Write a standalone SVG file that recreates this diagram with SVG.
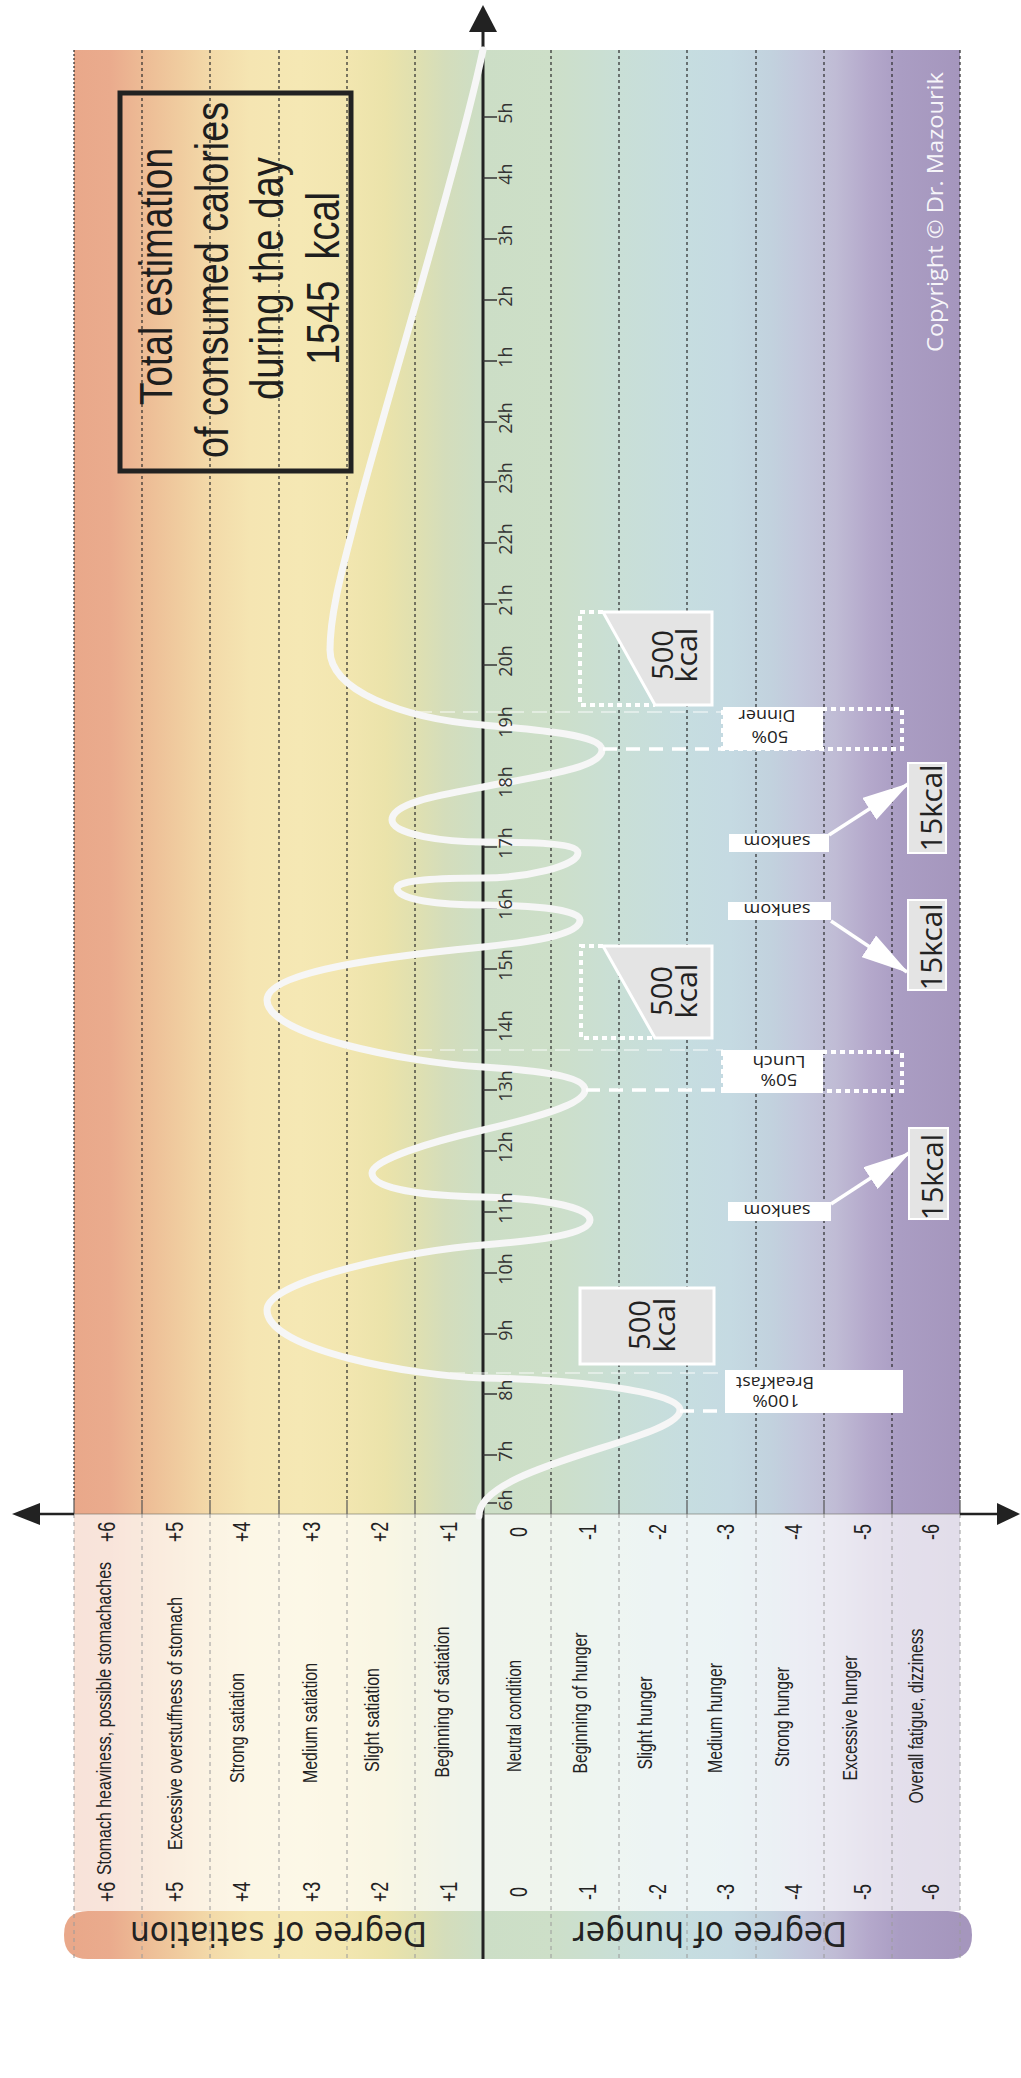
<svg xmlns="http://www.w3.org/2000/svg" width="1021" height="2078" viewBox="0 0 1021 2078">
<defs>
<linearGradient id="bg" gradientUnits="userSpaceOnUse" x1="74" y1="0" x2="960" y2="0">
<stop offset="0" stop-color="#e9a88a"/>
<stop offset="0.041" stop-color="#eaab8d"/>
<stop offset="0.077" stop-color="#edbb95"/>
<stop offset="0.12" stop-color="#f0cc9f"/>
<stop offset="0.155" stop-color="#f3daa9"/>
<stop offset="0.199" stop-color="#f5e5b2"/>
<stop offset="0.255" stop-color="#f5e8b4"/>
<stop offset="0.308" stop-color="#f2e6b0"/>
<stop offset="0.351" stop-color="#ebe3aa"/>
<stop offset="0.385" stop-color="#e0e0b0"/>
<stop offset="0.419" stop-color="#d4ddbb"/>
<stop offset="0.462" stop-color="#ccdec6"/>
<stop offset="0.538" stop-color="#cddfc8"/>
<stop offset="0.615" stop-color="#c9dfd6"/>
<stop offset="0.692" stop-color="#c6dde0"/>
<stop offset="0.74" stop-color="#c5dae2"/>
<stop offset="0.786" stop-color="#c2d2de"/>
<stop offset="0.819" stop-color="#c3c8dc"/>
<stop offset="0.859" stop-color="#c0bcd5"/>
<stop offset="0.898" stop-color="#b4a8cb"/>
<stop offset="0.932" stop-color="#aa9dc3"/>
<stop offset="1" stop-color="#a596bd"/>
</linearGradient>
<marker id="ah" viewBox="0 0 48 26" refX="46" refY="13" markerWidth="48" markerHeight="26" markerUnits="userSpaceOnUse" orient="auto">
<path d="M0,0 L48,13 L0,26 z" fill="#ffffff"/>
</marker>
<style>
.grid{stroke:#2a2a2a;stroke-width:1.2;stroke-dasharray:3 3;fill:none}
.gsolid{stroke:#555;stroke-width:1.2}
.gridlow{stroke:#9a9a9a;stroke-width:1;stroke-dasharray:4 4}
.tick{stroke:#333;stroke-width:1.5}
.hr{font-family:"Open Sans","DejaVu Sans",sans-serif;font-size:18px;fill:#333;text-anchor:middle}
.lvl{font-family:"Liberation Sans",Arial,sans-serif;font-size:21px;fill:#222;text-anchor:middle}
.num{font-family:"Liberation Sans",Arial,sans-serif;font-size:24px;fill:#222;text-anchor:middle}
.big{font-family:"Liberation Sans",Arial,sans-serif;font-size:47px;fill:#1e1e1e;text-anchor:middle}
.deg{font-family:"DejaVu Sans",sans-serif;font-size:34px;fill:#222;text-anchor:middle}
.kc{font-family:"Open Sans",sans-serif;font-size:30px;fill:#222;text-anchor:middle}
.lab{font-family:"Open Sans",sans-serif;font-size:17px;fill:#222;text-anchor:middle}
.box{fill:#e4e4e4;stroke:#ffffff;stroke-width:3}
.sbox{fill:#e4e4e4;stroke:#ffffff;stroke-width:2}
.dots{fill:none;stroke:#ffffff;stroke-width:4;stroke-dasharray:5 4}
.faint{stroke:#ffffff;stroke-opacity:0.6;stroke-width:1.5;stroke-dasharray:15 8}
.meal{stroke:#ffffff;stroke-width:3.5;stroke-dasharray:14 9}
.arrow{stroke:#ffffff;stroke-width:3.5;marker-end:url(#ah)}
.axis{stroke:#222;stroke-width:3;fill:none}
</style>
</defs>

<g id="background">
<rect x="74" y="50" width="886" height="1464" fill="url(#bg)"/>
<rect x="74" y="1514" width="886" height="397" fill="url(#bg)"/>
<rect x="74" y="1514" width="886" height="397" fill="#ffffff" fill-opacity="0.68"/>
<path id="pill-satiation" d="M483,1911 H88 Q64,1911 64,1935 Q64,1959 88,1959 H483 Z" fill="url(#bg)"/>
<path id="pill-hunger" d="M483,1911 H948 Q972,1911 972,1935 Q972,1959 948,1959 H483 Z" fill="url(#bg)"/>
</g>

<g id="grid">
<g class="grid">
<line x1="74" y1="50" x2="74" y2="1500" style="stroke-dasharray:2 2"/>
<line x1="142" y1="50" x2="142" y2="1500"/>
<line x1="210" y1="50" x2="210" y2="1500"/>
<line x1="279" y1="50" x2="279" y2="1500"/>
<line x1="347" y1="50" x2="347" y2="1500"/>
<line x1="415" y1="50" x2="415" y2="1500"/>
<line x1="551" y1="50" x2="551" y2="1500"/>
<line x1="619" y1="50" x2="619" y2="1500"/>
<line x1="687" y1="50" x2="687" y2="1500"/>
<line x1="756" y1="50" x2="756" y2="1500"/>
<line x1="824" y1="50" x2="824" y2="1500"/>
<line x1="892" y1="50" x2="892" y2="1500"/>
<line x1="960" y1="50" x2="960" y2="1500"/>
</g>
<g class="gsolid">
<line x1="74" y1="1500" x2="74" y2="1514"/>
<line x1="142" y1="1500" x2="142" y2="1514"/>
<line x1="210" y1="1500" x2="210" y2="1514"/>
<line x1="279" y1="1500" x2="279" y2="1514"/>
<line x1="347" y1="1500" x2="347" y2="1514"/>
<line x1="415" y1="1500" x2="415" y2="1514"/>
<line x1="551" y1="1500" x2="551" y2="1514"/>
<line x1="619" y1="1500" x2="619" y2="1514"/>
<line x1="687" y1="1500" x2="687" y2="1514"/>
<line x1="756" y1="1500" x2="756" y2="1514"/>
<line x1="824" y1="1500" x2="824" y2="1514"/>
<line x1="892" y1="1500" x2="892" y2="1514"/>
<line x1="960" y1="1500" x2="960" y2="1514"/>
</g>
<g class="gridlow">
<line x1="74" y1="1514" x2="74" y2="1959"/>
<line x1="142" y1="1514" x2="142" y2="1959"/>
<line x1="210" y1="1514" x2="210" y2="1959"/>
<line x1="279" y1="1514" x2="279" y2="1959"/>
<line x1="347" y1="1514" x2="347" y2="1959"/>
<line x1="415" y1="1514" x2="415" y2="1959"/>
<line x1="551" y1="1514" x2="551" y2="1959"/>
<line x1="619" y1="1514" x2="619" y2="1959"/>
<line x1="687" y1="1514" x2="687" y2="1959"/>
<line x1="756" y1="1514" x2="756" y2="1959"/>
<line x1="824" y1="1514" x2="824" y2="1959"/>
<line x1="892" y1="1514" x2="892" y2="1959"/>
<line x1="960" y1="1514" x2="960" y2="1959"/>
</g>
</g>

<g id="axes">
<line class="axis" x1="483" y1="30" x2="483" y2="1959"/>
<polygon points="483,5 469,32 497,32" fill="#222"/>
<line x1="38" y1="1514" x2="74" y2="1514" stroke="#222" stroke-width="2.5"/>
<line x1="74" y1="1514" x2="960" y2="1514" stroke="#6f6f66" stroke-width="1.2" stroke-opacity="0.6"/>
<line x1="960" y1="1514" x2="999" y2="1514" stroke="#222" stroke-width="2.5"/>
<polygon points="12,1514 40,1503 40,1525" fill="#222"/>
<polygon points="1020,1514 997,1503 997,1525" fill="#222"/>
</g>

<g id="hour-ticks" class="tick">
<line x1="483" y1="117" x2="497" y2="117"/>
<line x1="483" y1="178" x2="497" y2="178"/>
<line x1="483" y1="239" x2="497" y2="239"/>
<line x1="483" y1="300" x2="497" y2="300"/>
<line x1="483" y1="361" x2="497" y2="361"/>
<line x1="483" y1="422" x2="497" y2="422"/>
<line x1="483" y1="482" x2="497" y2="482"/>
<line x1="483" y1="543" x2="497" y2="543"/>
<line x1="483" y1="604" x2="497" y2="604"/>
<line x1="483" y1="665" x2="497" y2="665"/>
<line x1="483" y1="726" x2="497" y2="726"/>
<line x1="483" y1="786" x2="497" y2="786"/>
<line x1="483" y1="847" x2="497" y2="847"/>
<line x1="483" y1="908" x2="497" y2="908"/>
<line x1="483" y1="969" x2="497" y2="969"/>
<line x1="483" y1="1030" x2="497" y2="1030"/>
<line x1="483" y1="1090" x2="497" y2="1090"/>
<line x1="483" y1="1151" x2="497" y2="1151"/>
<line x1="483" y1="1212" x2="497" y2="1212"/>
<line x1="483" y1="1273" x2="497" y2="1273"/>
<line x1="483" y1="1334" x2="497" y2="1334"/>
<line x1="483" y1="1394" x2="497" y2="1394"/>
<line x1="483" y1="1455" x2="497" y2="1455"/>
<line x1="483" y1="1503" x2="497" y2="1503"/>
</g>

<g id="total-box">
<rect x="120" y="93" width="231" height="378" fill="none" stroke="#222" stroke-width="5"/>
<text class="big" transform="translate(172,276.5) rotate(-90)" textLength="257" lengthAdjust="spacingAndGlyphs">Total estimation</text>
<text class="big" transform="translate(228,280) rotate(-90)" textLength="356" lengthAdjust="spacingAndGlyphs">of consumed calories</text>
<text class="big" transform="translate(283,278.5) rotate(-90)" textLength="243" lengthAdjust="spacingAndGlyphs">during the day</text>
<text class="big" transform="translate(339,278.5) rotate(-90)" textLength="173" lengthAdjust="spacingAndGlyphs" xml:space="preserve">1545  kcal</text>
</g>

<g id="connectors">
<line class="faint" x1="417" y1="712" x2="723" y2="712"/>
<line class="faint" x1="417" y1="1050" x2="723" y2="1050"/>
<line class="faint" x1="450" y1="1373" x2="725" y2="1373"/>
<path id="hunger-curve" d="M479,1516 C478,1465 680,1440 680,1410 C680,1390 560,1379 483,1378 C413,1376 267,1350 267,1310 C267,1280 413,1250 483,1245 C533,1241 590,1235 590,1220 C590,1205 530,1198 483,1197 C430,1196 372,1190 372,1173 C372,1160 430,1142 483,1130 C530,1119 585,1105 585,1090 C585,1075 530,1070 483,1067 C403,1062 267,1035 267,1000 C267,970 400,955 483,947 C530,942 580,935 580,920 C580,908 520,905 483,905 C440,905 397,900 397,888 C397,880 440,878 483,878 C526,878 578,866 578,853 C578,842 520,842 483,842 C446,842 392,835 392,820 C392,803 440,795 483,787 C540,776 602,768 602,750 C602,735 540,730 483,725 C400,718 330,690 330,650 C330,610 345,560 355,520 C375,440 460,160 483,50" fill="none" stroke="#f6f6f6" stroke-width="7" stroke-linecap="round"/>
<line class="meal" x1="603" y1="749" x2="723" y2="749"/>
<line class="meal" x1="586" y1="1090" x2="723" y2="1090"/>
<line class="meal" x1="680" y1="1411" x2="725" y2="1411"/>
<line class="arrow" x1="831" y1="1204" x2="909" y2="1153"/>
<line class="arrow" x1="831" y1="921" x2="907" y2="972"/>
<line class="arrow" x1="829" y1="835" x2="908" y2="784"/>
</g>

<g id="hour-labels">
<text class="hr" transform="translate(512,113) rotate(-90)">5h</text>
<text class="hr" transform="translate(512,174) rotate(-90)">4h</text>
<text class="hr" transform="translate(512,235) rotate(-90)">3h</text>
<text class="hr" transform="translate(512,296) rotate(-90)">2h</text>
<text class="hr" transform="translate(512,357) rotate(-90)">1h</text>
<text class="hr" transform="translate(512,418) rotate(-90)">24h</text>
<text class="hr" transform="translate(512,478) rotate(-90)">23h</text>
<text class="hr" transform="translate(512,539) rotate(-90)">22h</text>
<text class="hr" transform="translate(512,600) rotate(-90)">21h</text>
<text class="hr" transform="translate(512,661) rotate(-90)">20h</text>
<text class="hr" transform="translate(512,722) rotate(-90)">19h</text>
<text class="hr" transform="translate(512,782) rotate(-90)">18h</text>
<text class="hr" transform="translate(512,843) rotate(-90)">17h</text>
<text class="hr" transform="translate(512,904) rotate(-90)">16h</text>
<text class="hr" transform="translate(512,965) rotate(-90)">15h</text>
<text class="hr" transform="translate(512,1026) rotate(-90)">14h</text>
<text class="hr" transform="translate(512,1086) rotate(-90)">13h</text>
<text class="hr" transform="translate(512,1147) rotate(-90)">12h</text>
<text class="hr" transform="translate(512,1208) rotate(-90)">11h</text>
<text class="hr" transform="translate(512,1269) rotate(-90)">10h</text>
<text class="hr" transform="translate(512,1330) rotate(-90)">9h</text>
<text class="hr" transform="translate(512,1390) rotate(-90)">8h</text>
<text class="hr" transform="translate(512,1451) rotate(-90)">7h</text>
<text class="hr" transform="translate(512,1500) rotate(-90)">6h</text>
</g>

<g id="breakfast-kcal">
<rect class="box" x="580" y="1288" width="134" height="76"/>
<text class="kc" transform="translate(650,1325) rotate(-90)" textLength="50" lengthAdjust="spacingAndGlyphs">500</text>
<text class="kc" transform="translate(675,1325) rotate(-90)" textLength="55" lengthAdjust="spacingAndGlyphs">kcal</text>
</g>
<g id="lunch-kcal">
<path class="dots" d="M603,946 H581 V1038 H655"/>
<polygon class="box" points="603,946 712,946 712,1038 655,1038"/>
<text class="kc" transform="translate(672,991) rotate(-90)" textLength="50" lengthAdjust="spacingAndGlyphs">500</text>
<text class="kc" transform="translate(697,991) rotate(-90)" textLength="55" lengthAdjust="spacingAndGlyphs">kcal</text>
</g>
<g id="dinner-kcal">
<path class="dots" d="M603,612 H580 V705 H655"/>
<polygon class="box" points="603,612 712,612 712,705 655,705"/>
<text class="kc" transform="translate(673,655) rotate(-90)" textLength="50" lengthAdjust="spacingAndGlyphs">500</text>
<text class="kc" transform="translate(697,655) rotate(-90)" textLength="55" lengthAdjust="spacingAndGlyphs">kcal</text>
</g>

<g id="breakfast-label">
<rect x="725" y="1370" width="178" height="43" fill="#ffffff"/>
<text class="lab" transform="translate(775,1377) rotate(180)" textLength="78" lengthAdjust="spacingAndGlyphs">Breakfast</text>
<text class="lab" transform="translate(776,1395) rotate(180)" textLength="47" lengthAdjust="spacingAndGlyphs">100%</text>
</g>
<g id="lunch-label">
<rect class="dots" x="723" y="1052" width="179" height="39"/>
<rect x="723" y="1050" width="100" height="43" fill="#ffffff"/>
<text class="lab" transform="translate(779,1056) rotate(180)" textLength="53" lengthAdjust="spacingAndGlyphs">Lunch</text>
<text class="lab" transform="translate(779,1074) rotate(180)" textLength="37" lengthAdjust="spacingAndGlyphs">50%</text>
</g>
<g id="dinner-label">
<rect class="dots" x="723" y="709" width="179" height="40"/>
<rect x="723" y="707" width="100" height="43" fill="#ffffff"/>
<text class="lab" transform="translate(767,710) rotate(180)" textLength="57" lengthAdjust="spacingAndGlyphs">Dinner</text>
<text class="lab" transform="translate(770,731) rotate(180)" textLength="37" lengthAdjust="spacingAndGlyphs">50%</text>
</g>

<g id="snack-1">
<rect x="728" y="1202" width="103" height="19" fill="#ffffff"/>
<text class="lab" transform="translate(777,1205) rotate(180)" textLength="67" lengthAdjust="spacingAndGlyphs">sankom</text>
<rect class="sbox" x="909" y="1128" width="39" height="91"/>
<text class="kc" transform="translate(943,1177) rotate(-90)" textLength="86" lengthAdjust="spacingAndGlyphs">15kcal</text>
</g>
<g id="snack-2">
<rect x="728" y="902" width="103" height="18" fill="#ffffff"/>
<text class="lab" transform="translate(777,904) rotate(180)" textLength="67" lengthAdjust="spacingAndGlyphs">sankom</text>
<rect class="sbox" x="908" y="900" width="38" height="90"/>
<text class="kc" transform="translate(942,947) rotate(-90)" textLength="87" lengthAdjust="spacingAndGlyphs">15kcal</text>
</g>
<g id="snack-3">
<rect x="729" y="834" width="100" height="18" fill="#ffffff"/>
<text class="lab" transform="translate(777,836) rotate(180)" textLength="67" lengthAdjust="spacingAndGlyphs">sankom</text>
<rect class="sbox" x="908" y="763" width="38" height="90"/>
<text class="kc" transform="translate(942,808) rotate(-90)" textLength="87" lengthAdjust="spacingAndGlyphs">15kcal</text>
</g>

<g id="copyright">
<text transform="translate(943,212) rotate(-90)" font-family="'Open Sans',sans-serif" font-size="22" fill="#ffffff" fill-opacity="0.92" text-anchor="middle" textLength="280" lengthAdjust="spacingAndGlyphs">Copyright © Dr. Mazourik</text>
</g>

<g id="level-numbers">
<text class="num" transform="translate(115,1532) rotate(-90) scale(0.75,1)">+6</text>
<text class="num" transform="translate(183,1532) rotate(-90) scale(0.75,1)">+5</text>
<text class="num" transform="translate(250,1532) rotate(-90) scale(0.75,1)">+4</text>
<text class="num" transform="translate(320,1532) rotate(-90) scale(0.75,1)">+3</text>
<text class="num" transform="translate(388,1532) rotate(-90) scale(0.75,1)">+2</text>
<text class="num" transform="translate(457,1532) rotate(-90) scale(0.75,1)">+1</text>
<text class="num" transform="translate(527,1532) rotate(-90) scale(0.75,1)">0</text>
<text class="num" transform="translate(596,1532) rotate(-90) scale(0.75,1)">-1</text>
<text class="num" transform="translate(666,1532) rotate(-90) scale(0.75,1)">-2</text>
<text class="num" transform="translate(734,1532) rotate(-90) scale(0.75,1)">-3</text>
<text class="num" transform="translate(802,1532) rotate(-90) scale(0.75,1)">-4</text>
<text class="num" transform="translate(871,1532) rotate(-90) scale(0.75,1)">-5</text>
<text class="num" transform="translate(939,1532) rotate(-90) scale(0.75,1)">-6</text>
<text class="num" transform="translate(115,1892) rotate(-90) scale(0.75,1)">+6</text>
<text class="num" transform="translate(183,1892) rotate(-90) scale(0.75,1)">+5</text>
<text class="num" transform="translate(250,1892) rotate(-90) scale(0.75,1)">+4</text>
<text class="num" transform="translate(320,1892) rotate(-90) scale(0.75,1)">+3</text>
<text class="num" transform="translate(388,1892) rotate(-90) scale(0.75,1)">+2</text>
<text class="num" transform="translate(457,1892) rotate(-90) scale(0.75,1)">+1</text>
<text class="num" transform="translate(527,1892) rotate(-90) scale(0.75,1)">0</text>
<text class="num" transform="translate(596,1892) rotate(-90) scale(0.75,1)">-1</text>
<text class="num" transform="translate(666,1892) rotate(-90) scale(0.75,1)">-2</text>
<text class="num" transform="translate(734,1892) rotate(-90) scale(0.75,1)">-3</text>
<text class="num" transform="translate(802,1892) rotate(-90) scale(0.75,1)">-4</text>
<text class="num" transform="translate(871,1892) rotate(-90) scale(0.75,1)">-5</text>
<text class="num" transform="translate(939,1892) rotate(-90) scale(0.75,1)">-6</text>
</g>

<g id="level-descriptions">
<text class="lvl" transform="translate(110.5,1718.5) rotate(-90)" textLength="313" lengthAdjust="spacingAndGlyphs">Stomach heaviness, possible stomachaches</text>
<text class="lvl" transform="translate(182,1723.5) rotate(-90)" textLength="253" lengthAdjust="spacingAndGlyphs">Excessive overstuffness of stomach</text>
<text class="lvl" transform="translate(244,1728) rotate(-90)" textLength="110" lengthAdjust="spacingAndGlyphs">Strong satiation</text>
<text class="lvl" transform="translate(317,1723) rotate(-90)" textLength="120" lengthAdjust="spacingAndGlyphs">Medium satiation</text>
<text class="lvl" transform="translate(379,1720) rotate(-90)" textLength="104" lengthAdjust="spacingAndGlyphs">Slight satiation</text>
<text class="lvl" transform="translate(449,1702) rotate(-90)" textLength="151" lengthAdjust="spacingAndGlyphs">Beginning of satiation</text>
<text class="lvl" transform="translate(521,1716) rotate(-90)" textLength="112" lengthAdjust="spacingAndGlyphs">Neutral condition</text>
<text class="lvl" transform="translate(587,1703) rotate(-90)" textLength="141" lengthAdjust="spacingAndGlyphs">Beginning of hunger</text>
<text class="lvl" transform="translate(652,1723) rotate(-90)" textLength="93" lengthAdjust="spacingAndGlyphs">Slight hunger</text>
<text class="lvl" transform="translate(722,1718) rotate(-90)" textLength="110" lengthAdjust="spacingAndGlyphs">Medium hunger</text>
<text class="lvl" transform="translate(789,1717) rotate(-90)" textLength="100" lengthAdjust="spacingAndGlyphs">Strong hunger</text>
<text class="lvl" transform="translate(857,1718) rotate(-90)" textLength="125" lengthAdjust="spacingAndGlyphs">Excessive hunger</text>
<text class="lvl" transform="translate(923,1716) rotate(-90)" textLength="175" lengthAdjust="spacingAndGlyphs">Overall fatigue, dizziness</text>
</g>

<g id="scale-titles">
<text class="deg" transform="translate(278.5,1922) rotate(180)" textLength="297" lengthAdjust="spacingAndGlyphs">Degree of satiation</text>
<text class="deg" transform="translate(710,1922) rotate(180)" textLength="274" lengthAdjust="spacingAndGlyphs">Degree of hunger</text>
</g>
</svg>
